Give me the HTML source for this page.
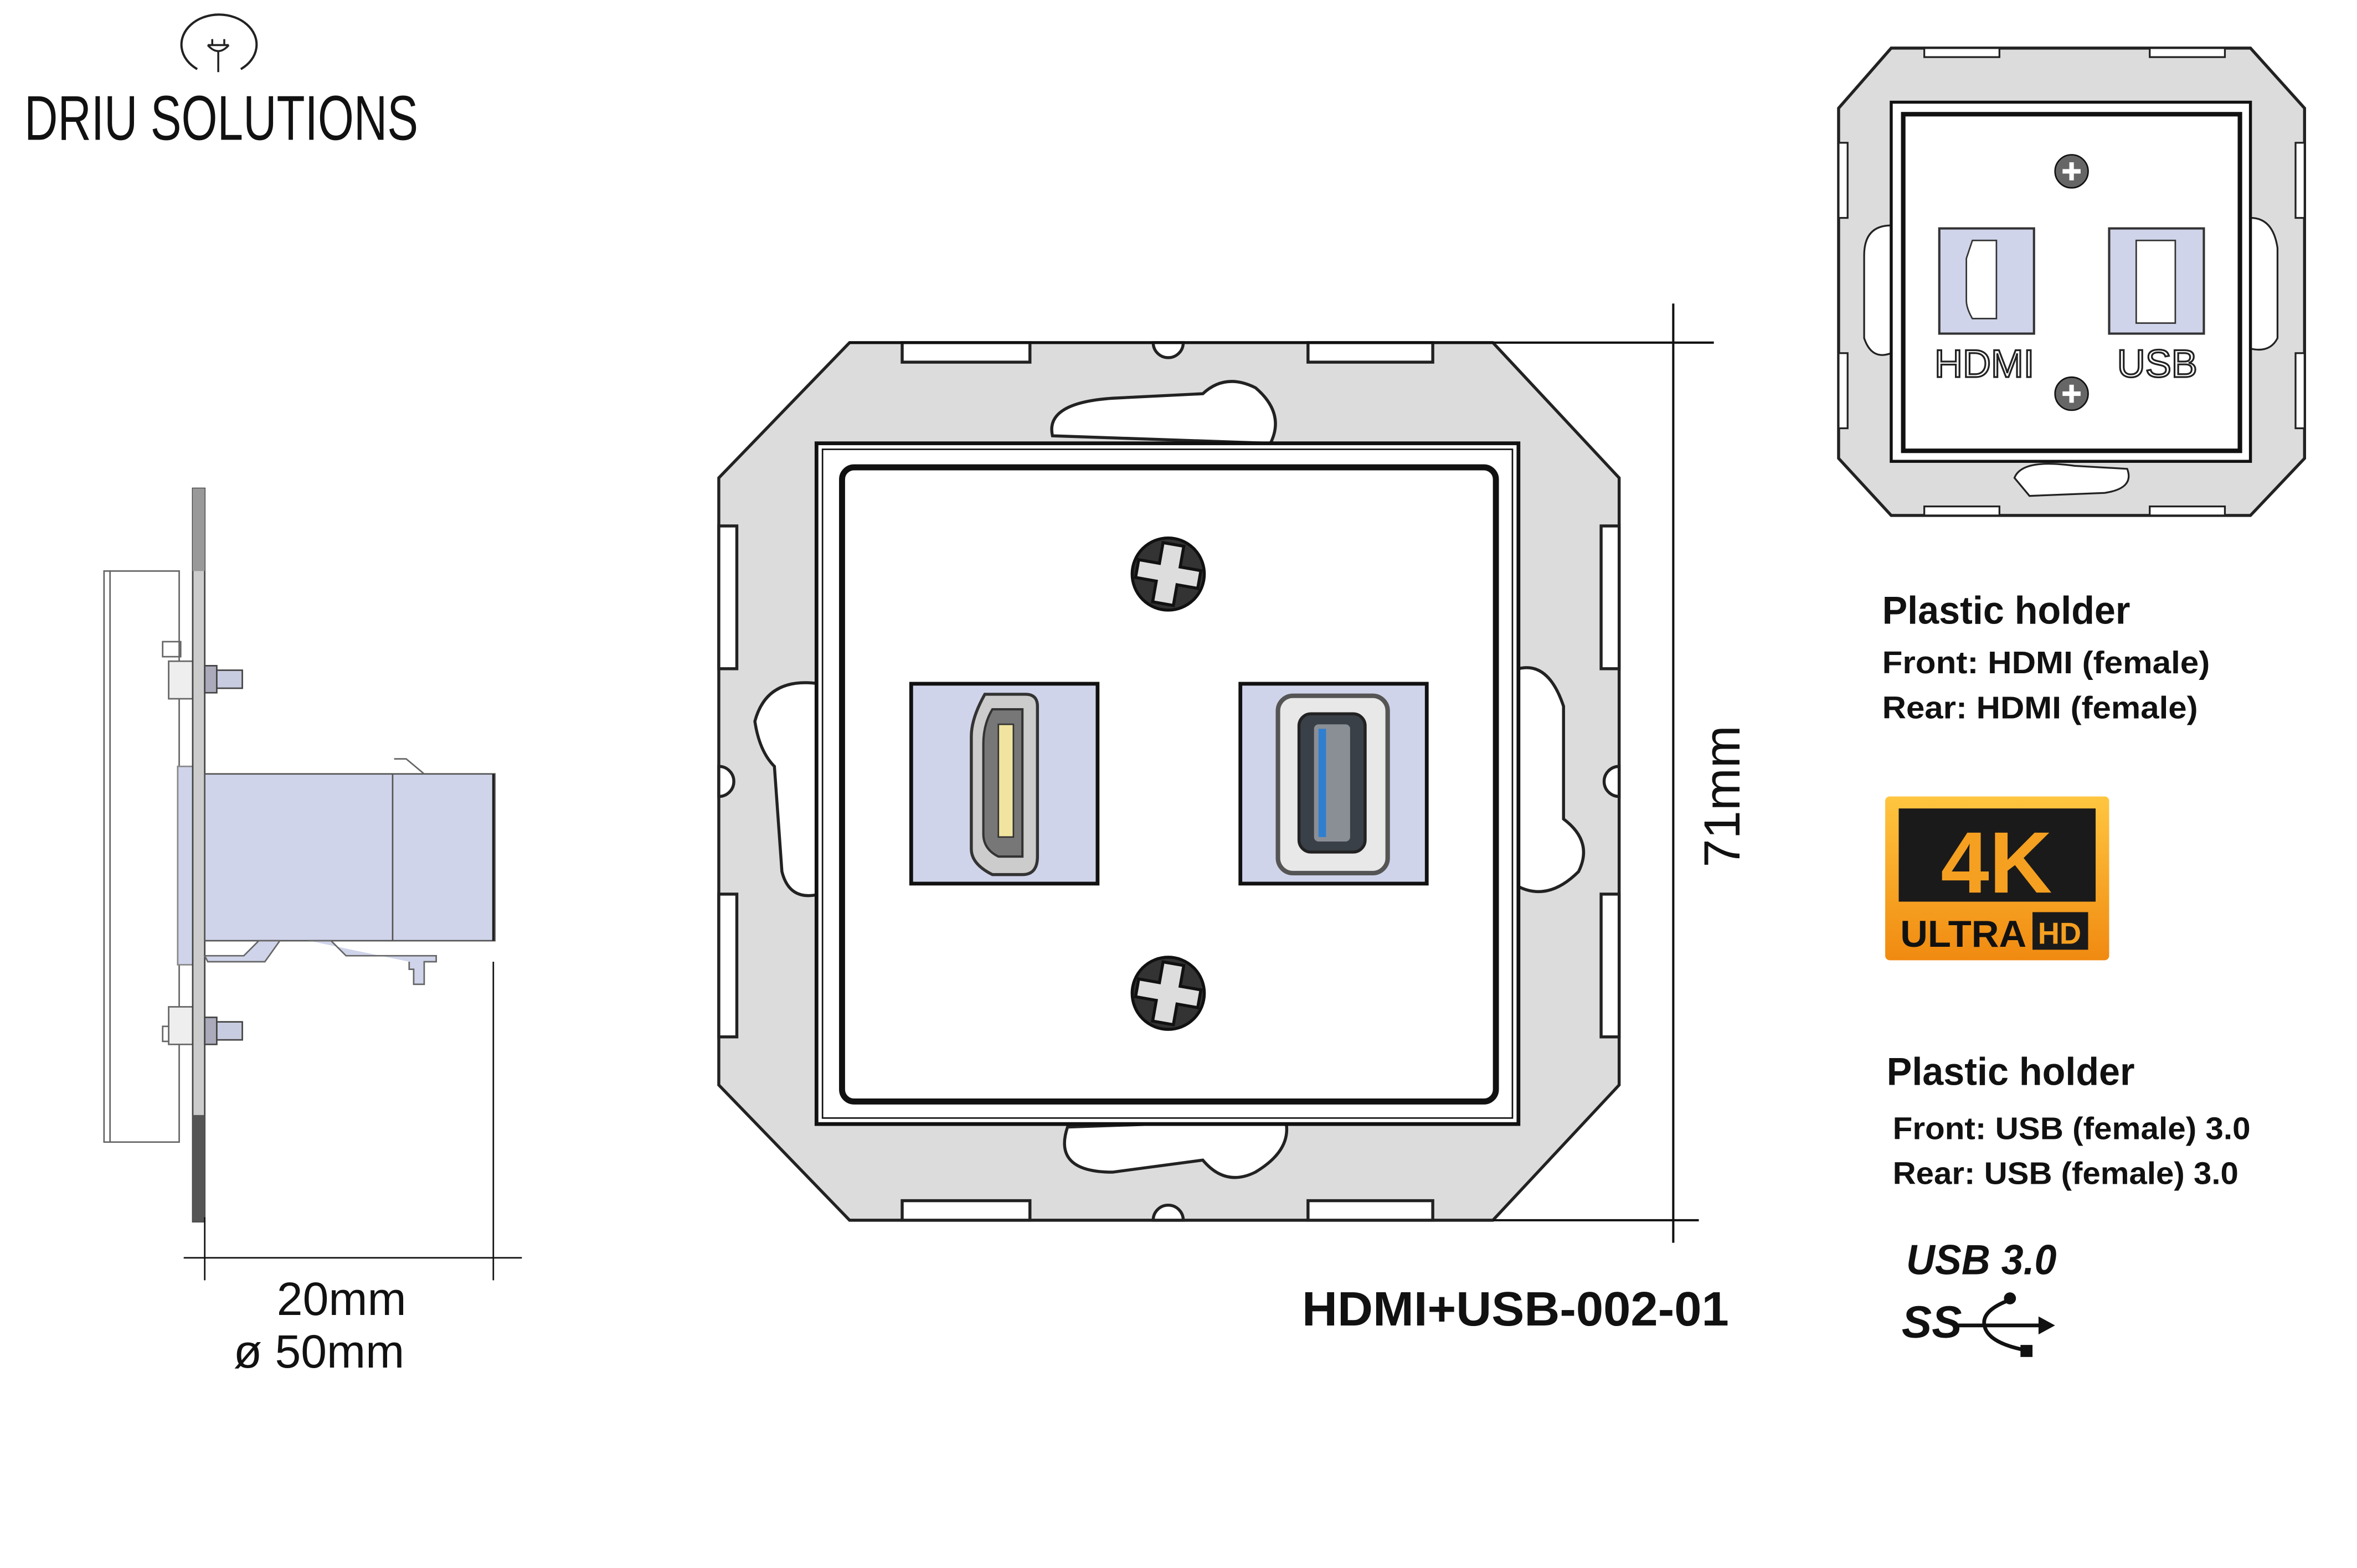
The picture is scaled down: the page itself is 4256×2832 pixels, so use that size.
<!DOCTYPE html>
<html><head><meta charset="utf-8"><style>html,body{margin:0;padding:0;background:#fff}svg{display:block}</style></head>
<body>
<svg xmlns="http://www.w3.org/2000/svg" width="4256" height="2832" viewBox="0 0 1552 1033" font-family="Liberation Sans, sans-serif">
<rect width="1552" height="1033" fill="#fff"/>
<g transform="scale(0.99)">
<!-- Logo -->
<path d="M131,46 A25,20 0 1 1 160,46" fill="none" stroke="#222" stroke-width="1.5"/>
<path d="M138,30 h14 M141,30 v-4 M149,30 v-4 M145,34 v14 M138,30 q7,8 14,0" fill="none" stroke="#222" stroke-width="1.3"/>
<text x="16" y="93" font-size="42" fill="#111" textLength="262" lengthAdjust="spacingAndGlyphs">DRIU SOLUTIONS</text>

<!-- Side view -->
<g stroke="#666" stroke-width="1" fill="none">
<rect x="69" y="380" width="50" height="380" fill="#fff"/>
<line x1="73" y1="380" x2="73" y2="760"/>
<rect x="108" y="427" width="12" height="10"/><rect x="108" y="683" width="12" height="10"/>
<rect x="112" y="440" width="16" height="25" fill="#eee"/><rect x="112" y="670" width="16" height="25" fill="#eee"/>
</g>
<rect x="118" y="510" width="16" height="132" fill="#d0d4ea" stroke="#888"/>
<rect x="128" y="325" width="8" height="488" fill="#ccc" stroke="#444" stroke-width="1"/>
<rect x="128" y="325" width="8" height="55" fill="#999"/>
<rect x="128" y="742" width="8" height="71" fill="#555"/>
<rect x="136" y="515" width="193" height="111" fill="#d0d4ea" stroke="#555"/>
<line x1="261" y1="515" x2="261" y2="626" stroke="#555"/>
<line x1="328" y1="515" x2="328" y2="626" stroke="#222" stroke-width="1.5"/>
<path d="M136,636 H162 L172,626 H186 L176,640 H138 Z M205,626 H220 L230,636 H290 V640 H282 V655 H275 V645 H272 V640" fill="#d0d4ea" stroke="#666"/>
<path d="M262,505 L270,505 L282,515" fill="none" stroke="#666"/>
<g fill="#aab" stroke="#444" stroke-width="1">
<rect x="136" y="443" width="8" height="18"/><rect x="144" y="446" width="17" height="12" fill="#c8cce0"/>
<rect x="136" y="677" width="8" height="18"/><rect x="144" y="680" width="17" height="12" fill="#c8cce0"/>
</g>
<g stroke="#111" stroke-width="1">
<line x1="122" y1="837" x2="347" y2="837"/>
<line x1="136" y1="810" x2="136" y2="852"/>
<line x1="328" y1="640" x2="328" y2="852"/>
</g>
<text x="227" y="875" font-size="31" text-anchor="middle" fill="#111">20mm</text>
<text x="212" y="910" font-size="31" text-anchor="middle" fill="#111">ø 50mm</text>

<!-- Main plate -->
<path d="M565,228 H993 L1077,318 V722 L993,812 H565 L478,722 V318 Z" fill="#dcdcdc" stroke="#222" stroke-width="2"/>
<g fill="#fff" stroke="#222" stroke-width="2">
<rect x="600" y="228" width="85" height="13"/><rect x="870" y="228" width="83" height="13"/>
<rect x="600" y="799" width="85" height="13"/><rect x="870" y="799" width="83" height="13"/>
<rect x="478" y="350" width="12" height="95"/><rect x="478" y="595" width="12" height="95"/>
<rect x="1065" y="350" width="12" height="95"/><rect x="1065" y="595" width="12" height="95"/>
<path d="M767,228 A10,10 0 0 0 787,228 Z"/><path d="M767,812 A10,10 0 0 1 787,812 Z"/>
<path d="M478,510 A10,10 0 0 1 478,530 Z"/><path d="M1077,510 A10,10 0 0 0 1077,530 Z"/>
<path d="M700,290 Q695,268 740,265 L800,262 Q815,248 835,258 Q855,275 845,295 Z"/>
<path d="M710,750 Q700,780 740,780 L800,772 Q815,790 835,780 Q860,765 855,745 Z"/>
<path d="M545,455 Q510,450 502,480 Q505,500 515,510 L520,580 Q525,600 545,595 Z"/>
<path d="M1010,445 Q1030,440 1040,470 L1040,545 Q1060,560 1050,580 Q1030,600 1010,590 Z"/>
</g>
<rect x="543" y="295" width="467" height="453" fill="#fff" stroke="#111" stroke-width="2.5"/>
<rect x="547" y="299" width="459" height="445" fill="none" stroke="#111" stroke-width="1"/>
<rect x="560" y="311" width="435" height="422" rx="8" fill="#fff" stroke="#111" stroke-width="4"/>
<!-- screws -->
<g>
<circle cx="777" cy="382" r="24" fill="#333" stroke="#111" stroke-width="2"/>
<path d="M770,362 h14 v14 h14 v12 h-14 v14 h-14 v-14 h-14 v-12 h14 Z" fill="#ddd" stroke="#111" stroke-width="2" transform="rotate(10 777 382)"/>
<circle cx="777" cy="661" r="24" fill="#333" stroke="#111" stroke-width="2"/>
<path d="M770,641 h14 v14 h14 v12 h-14 v14 h-14 v-14 h-14 v-12 h14 Z" fill="#ddd" stroke="#111" stroke-width="2" transform="rotate(10 777 661)"/>
</g>
<!-- HDMI -->
<rect x="606" y="455" width="124" height="133" fill="#d0d4ea" stroke="#111" stroke-width="2.5"/>
<path d="M655,462 H682 Q690,462 690,470 V570 Q690,582 680,582 H660 Q646,575 646,565 V490 Q646,478 655,462 Z" fill="#ccc" stroke="#333" stroke-width="2"/>
<path d="M660,472 H680 V570 H664 Q654,565 654,555 V495 Q654,482 660,472 Z" fill="#777" stroke="#333" stroke-width="1.5"/>
<rect x="664" y="482" width="10" height="75" fill="#f0e4a0" stroke="#333" stroke-width="1"/>
<!-- USB -->
<rect x="825" y="455" width="124" height="133" fill="#d0d4ea" stroke="#111" stroke-width="2.5"/>
<rect x="850" y="463" width="73" height="118" rx="10" fill="#e8e8e8" stroke="#555" stroke-width="3"/>
<rect x="864" y="475" width="44" height="92" rx="8" fill="#3a4048" stroke="#222" stroke-width="2"/>
<rect x="874" y="482" width="24" height="78" rx="3" fill="#8a8f96"/>
<rect x="877" y="485" width="5" height="72" fill="#2f7fd0"/>
<!-- dimension -->
<g stroke="#111" stroke-width="1.5">
<line x1="1113" y1="202" x2="1113" y2="827"/>
<line x1="565" y1="228" x2="1140" y2="228"/>
<line x1="993" y1="812" x2="1130" y2="812"/>
</g>
<text transform="translate(1157,530) rotate(-90)" font-size="34" text-anchor="middle" fill="#111">71mm</text>
<text x="866" y="882" font-size="32" font-weight="bold" fill="#111" textLength="284" lengthAdjust="spacingAndGlyphs">HDMI+USB-002-01</text>

<!-- Top-right small view -->
<path d="M1258,32 H1497 L1533,72 V305 L1497,343 H1258 L1223,305 V72 Z" fill="#dcdcdc" stroke="#222" stroke-width="2"/>
<g fill="#fff" stroke="#222" stroke-width="1.2">
<rect x="1280" y="32" width="50" height="6"/><rect x="1430" y="32" width="50" height="6"/>
<rect x="1280" y="337" width="50" height="6"/><rect x="1430" y="337" width="50" height="6"/>
<rect x="1223" y="95" width="6" height="50"/><rect x="1223" y="235" width="6" height="50"/>
<rect x="1527" y="95" width="6" height="50"/><rect x="1527" y="235" width="6" height="50"/>
<path d="M1258,150 Q1240,150 1240,170 V225 Q1245,240 1258,235 Z"/>
<path d="M1497,145 Q1512,145 1515,165 V225 Q1510,235 1497,232 Z"/>
<path d="M1340,318 Q1345,305 1380,310 L1415,312 Q1420,325 1400,328 L1350,330 Z"/>
</g>
<rect x="1258" y="68" width="239" height="239" fill="#fff" stroke="#111" stroke-width="2"/>
<rect x="1266" y="76" width="224" height="224" fill="#fff" stroke="#111" stroke-width="3"/>
<rect x="1290" y="152" width="63" height="70" fill="#d0d4ea" stroke="#333" stroke-width="1.5"/>
<path d="M1312,160 H1328 V212 H1312 Q1308,205 1308,200 V172 Z" fill="#fff" stroke="#333"/>
<rect x="1403" y="152" width="63" height="70" fill="#d0d4ea" stroke="#333" stroke-width="1.5"/>
<rect x="1421" y="160" width="26" height="55" fill="#fff" stroke="#333"/>
<circle cx="1378" cy="114" r="11" fill="#666" stroke="#111"/><path d="M1372,114 h12 M1378,108 v12" stroke="#fff" stroke-width="3"/>
<circle cx="1378" cy="262" r="11" fill="#666" stroke="#111"/><path d="M1372,262 h12 M1378,256 v12" stroke="#fff" stroke-width="3"/>
<text x="1320" y="251" font-size="26" text-anchor="middle" fill="#fff" stroke="#222" stroke-width="1.2">HDMI</text>
<text x="1435" y="251" font-size="26" text-anchor="middle" fill="#fff" stroke="#222" stroke-width="1.2">USB</text>

<!-- Info text -->
<g fill="#111">
<text x="1252" y="415" font-size="26" font-weight="bold" textLength="165" lengthAdjust="spacingAndGlyphs">Plastic holder</text>
<text x="1252" y="448" font-size="21" font-weight="bold" textLength="218" lengthAdjust="spacingAndGlyphs">Front: HDMI (female)</text>
<text x="1252" y="478" font-size="21" font-weight="bold" textLength="210" lengthAdjust="spacingAndGlyphs">Rear: HDMI (female)</text>
<text x="1255" y="722" font-size="26" font-weight="bold" textLength="165" lengthAdjust="spacingAndGlyphs">Plastic holder</text>
<text x="1259" y="758" font-size="21" font-weight="bold" textLength="238" lengthAdjust="spacingAndGlyphs">Front: USB (female) 3.0</text>
<text x="1259" y="788" font-size="21" font-weight="bold" textLength="230" lengthAdjust="spacingAndGlyphs">Rear: USB (female) 3.0</text>
</g>
<!-- 4K badge -->
<defs><linearGradient id="og" x1="0" y1="0" x2="0" y2="1"><stop offset="0" stop-color="#ffc640"/><stop offset="1" stop-color="#f08a10"/></linearGradient></defs>
<rect x="1254" y="530" width="149" height="109" rx="3" fill="url(#og)"/>
<rect x="1263" y="538" width="131" height="62" fill="#1a1a1a"/>
<text x="1328" y="594" font-size="58" font-weight="bold" text-anchor="middle" fill="#f5a020">4K</text>
<text x="1264" y="630" font-size="25" font-weight="bold" fill="#111" textLength="84" lengthAdjust="spacingAndGlyphs">ULTRA</text>
<rect x="1352" y="607" width="37" height="25" fill="#1a1a1a"/>
<text x="1370" y="628" font-size="20" font-weight="bold" text-anchor="middle" fill="#f5a020">HD</text>
<!-- USB 3.0 logo -->
<text x="1268" y="848" font-size="28" font-weight="bold" font-style="italic" fill="#111" textLength="100" lengthAdjust="spacingAndGlyphs">USB 3.0</text>
<text x="1265" y="890" font-size="30" font-weight="bold" font-style="italic" fill="#111" textLength="40" lengthAdjust="spacingAndGlyphs">SS</text>
<path d="M1300,882 H1358 M1337,865 Q1318,872 1320,882 Q1322,893 1345,898" fill="none" stroke="#111" stroke-width="2.5"/>
<path d="M1356,876 L1367,882 L1356,888 Z" fill="#111"/>
<circle cx="1337" cy="864" r="4" fill="#111"/><rect x="1344" y="895" width="8" height="8" fill="#111"/>
</g>
</svg>
</body></html>
